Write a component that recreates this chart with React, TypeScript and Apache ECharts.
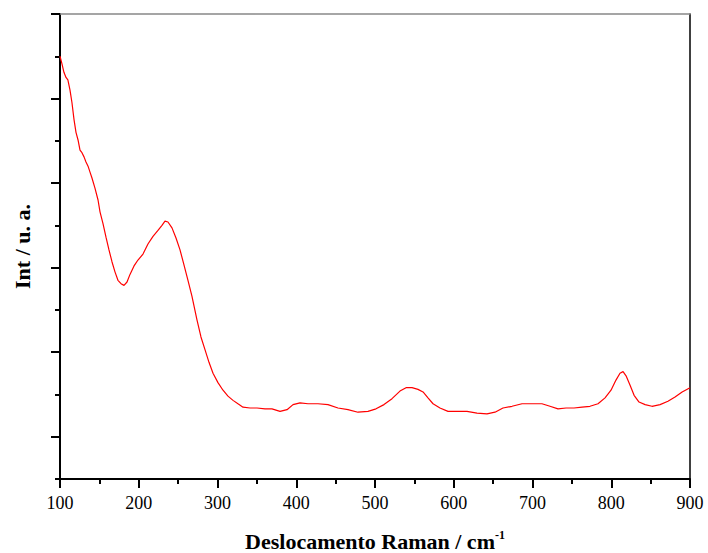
import React, { useEffect, useRef } from "react";
import * as echarts from "echarts";

const ramanShift: number[] = [
  100, 102.5, 105, 107.6, 110, 112.7, 115.2, 117.8, 120.3, 122.9, 125.4, 127.9, 130.5, 133, 135.6, 138.1,
  140.6, 144.4, 148.3, 150.8, 154.6, 158.4, 162.2, 166, 169.8, 173.6, 177.5, 181.3, 185.1, 188.9, 194, 199,
  205.4, 211.7, 218.1, 224.4, 229.5, 233.3, 237.1, 242.2, 247.3, 252.4, 257.5, 262.5, 267.6, 274, 279,
  284.1, 289.2, 294.3, 300.6, 307, 313.3, 319.7, 326, 332.4, 341.3, 350.2, 360.3, 369.2, 379.4, 388.3,
  395.9, 404.8, 414.9, 427.6, 440.3, 453, 465.7, 478.4, 491.1, 501.3, 511.4, 521.6, 531.7, 539.4, 547,
  554.6, 561, 567.3, 573.7, 582.5, 592.7, 605.4, 616.8, 629.5, 642.2, 652.4, 662.5, 674, 686.7, 699.4,
  712, 722.2, 732.4, 742.6, 752.7, 762.9, 773, 783.2, 792.1, 799.7, 806, 811.1, 815, 818.8, 823.9, 829,
  835.3, 843, 851.7, 862, 872, 881, 890, 900,
];

const intensity: number[] = [
  5.0, 4.91, 4.81, 4.75, 4.72, 4.6, 4.45, 4.25, 4.1, 4.01, 3.89, 3.86, 3.81, 3.75, 3.7, 3.63,
  3.56, 3.44, 3.3, 3.16, 3.02, 2.86, 2.71, 2.57, 2.45, 2.35, 2.31, 2.29, 2.33, 2.42, 2.52, 2.59,
  2.66, 2.78, 2.87, 2.94, 3.0, 3.05, 3.04, 2.97, 2.85, 2.71, 2.53, 2.35, 2.16, 1.88, 1.68,
  1.53, 1.38, 1.25, 1.14, 1.05, 0.98, 0.93, 0.89, 0.85, 0.84, 0.84, 0.83, 0.83, 0.8, 0.82,
  0.88, 0.9, 0.89, 0.89, 0.88, 0.84, 0.82, 0.79, 0.8, 0.83, 0.88, 0.95, 1.04, 1.08, 1.08,
  1.06, 1.03, 0.96, 0.89, 0.84, 0.8, 0.8, 0.8, 0.78, 0.77, 0.79, 0.84, 0.86, 0.89, 0.89,
  0.89, 0.86, 0.83, 0.84, 0.84, 0.85, 0.86, 0.89, 0.96, 1.05, 1.17, 1.25, 1.27, 1.22, 1.11, 0.99,
  0.91, 0.88, 0.86, 0.88, 0.92, 0.97, 1.03, 1.08,
];

const majorYTicks: number[] = [0.5, 1.5, 2.5, 3.5, 4.5, 5.5];

const FONT = "'Liberation Serif', 'Times New Roman', serif";

export default function App() {
  const ref = useRef<HTMLDivElement>(null);
  useEffect(() => {
    if (!ref.current) return;
    const chart = echarts.init(ref.current, undefined, { renderer: "svg" });
    const data = ramanShift.map((x, i) => [x, intensity[i]]);
    chart.setOption({
      animation: false,
      backgroundColor: "#fff",
      grid: { left: 60, right: 18, top: 14, bottom: 74, containLabel: false, outerBoundsMode: "none" },
      xAxis: [
        {
          type: "value",
          min: 100,
          max: 900,
          interval: 100,
          axisLine: { lineStyle: { color: "#000", width: 2 } },
          axisTick: { show: true, inside: false, length: 9, lineStyle: { color: "#000", width: 2 } },
          minorTick: { show: true, splitNumber: 2, length: 5, lineStyle: { color: "#000", width: 2 } },
          axisLabel: { color: "#000", fontFamily: FONT, fontSize: 18, margin: 15 },
          splitLine: { show: false },
          name: "{a|Deslocamento Raman / cm}{s|-1}",
          nameLocation: "middle",
          nameGap: 50,
          nameTextStyle: {
            rich: {
              a: { fontFamily: FONT, fontSize: 22, fontWeight: "bold", color: "#000" },
              s: { fontFamily: FONT, fontSize: 12, fontWeight: "bold", color: "#000", padding: [0, 0, 13, 0] },
            },
          },
        },
        {
          type: "value",
          position: "top",
          min: 100,
          max: 900,
          axisLine: { onZero: false, lineStyle: { color: "#888", width: 1.5 } },
          axisTick: { show: false },
          axisLabel: { show: false },
          splitLine: { show: false },
        },
      ],
      yAxis: [
        {
          type: "value",
          min: 0,
          max: 5.5,
          interval: 0.5,
          axisLine: { show: true, onZero: false, lineStyle: { color: "#000", width: 2 } },
          axisTick: { show: true, length: 5, lineStyle: { color: "#000", width: 2 } },
          axisLabel: { show: false },
          splitLine: { show: false },
          name: "Int / u. a.",
          nameLocation: "middle",
          nameGap: 27,
          nameTextStyle: { fontFamily: FONT, fontSize: 22, fontWeight: "bold", color: "#000" },
        },
        {
          type: "value",
          position: "left",
          min: 0,
          max: 5.5,
          axisLine: { show: false },
          axisTick: { show: true, length: 9, customValues: majorYTicks, lineStyle: { color: "#000", width: 2 } },
          axisLabel: { show: false },
          splitLine: { show: false },
        },
        {
          type: "value",
          position: "right",
          min: 0,
          max: 5.5,
          axisLine: { show: true, onZero: false, lineStyle: { color: "#000", width: 1.5 } },
          axisTick: { show: false },
          axisLabel: { show: false },
          splitLine: { show: false },
        },
      ],
      series: [
        {
          type: "line",
          data,
          showSymbol: false,
          symbol: "none",
          lineStyle: { color: "#ff0000", width: 1.2 },
          xAxisIndex: 0,
          yAxisIndex: 0,
          z: 1,
        },
      ],
    });
    return () => chart.dispose();
  }, []);
  return <div ref={ref} style={{ position: "fixed", left: 0, top: 0, width: 708, height: 553 }} />;
}
